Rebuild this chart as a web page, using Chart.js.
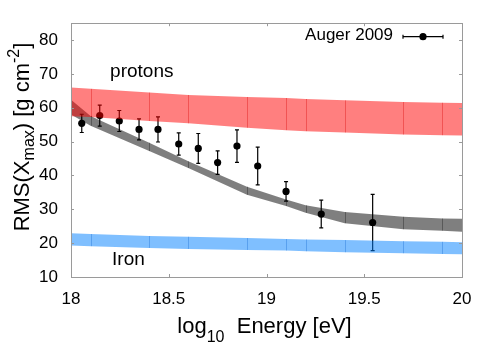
<!DOCTYPE html>
<html><head><meta charset="utf-8">
<script src="https://cdn.jsdelivr.net/npm/chart.js@4/dist/chart.umd.min.js"></script>
<style>html,body{margin:0;padding:0;background:#fff}canvas{display:block}</style>
</head><body>
<canvas id="c" width="500" height="361"></canvas>
<script>
// Auger 2009 measurements
const energy = [18.055, 18.147, 18.247, 18.348, 18.445, 18.551, 18.651, 18.75, 18.849, 18.955, 19.1, 19.28, 19.543];
const rms    = [55.4, 57.7, 56.1, 53.6, 53.6, 49.3, 48.0, 43.8, 48.7, 42.8, 35.3, 28.6, 26.1];
const rmsErr = [2.7, 3.1, 3.1, 3.1, 3.7, 3.3, 4.4, 3.5, 4.8, 5.6, 2.9, 4.1, 8.3];
// model bands
const bandX     = [18, 18.1, 18.4, 18.6, 18.9, 19.1, 19.2, 19.4, 19.7, 19.9, 20];
const protonHi  = [66.0, 65.6, 64.5, 63.8, 63.2, 62.9, 62.6, 62.2, 61.7, 61.5, 61.4];
const protonLo  = [57.5, 57.3, 56.1, 55.4, 54.1, 53.4, 53.1, 52.7, 52.1, 51.9, 51.8];
const mixHi     = [62.4, 57.6, 49.7, 44.2, 36.7, 32.9, 31.2, 29.2, 27.8, 27.3, 27.2];
const mixLo     = [58.0, 54.7, 47.2, 42.2, 34.3, 31.0, 29.0, 25.9, 24.1, 23.7, 23.4];
const ironHi    = [22.9, 22.7, 22.1, 21.9, 21.5, 21.2, 21.1, 20.9, 20.6, 20.4, 20.3];
const ironLo    = [19.3, 19.1, 18.6, 18.3, 18.0, 17.8, 17.6, 17.3, 17.0, 16.8, 16.7];
// axes
const xTicks = [18, 18.5, 19, 19.5, 20];
const yTicks = [10, 20, 30, 40, 50, 60, 70, 80];
const legendLabel = 'Auger 2009';
const bandLabels = [{text: 'protons', x: 18.2, y: 69}, {text: 'Iron', x: 18.21, y: 13.5}];

const FONT = '"Liberation Sans", Arial, Helvetica, sans-serif';
const pts = (xs, ys) => xs.map((x, i) => ({x: x, y: ys[i]}));

function band(hi, lo, fillCol) {
  return [
    {data: pts(bandX, hi), fill: '+1', backgroundColor: fillCol, borderWidth: 0, pointRadius: 0, tension: 0},
    {data: pts(bandX, lo), fill: false, borderWidth: 0, pointRadius: 0, tension: 0}
  ];
}
const bands = [
  {hi: protonHi, lo: protonLo, fill: 'rgba(255,0,0,0.5)', line: 'rgba(215,0,0,0.35)'},
  {hi: mixHi, lo: mixLo, fill: 'rgba(0,0,0,0.5)', line: 'rgba(0,0,0,0.3)'},
  {hi: ironHi, lo: ironLo, fill: 'rgba(0,128,255,0.5)', line: 'rgba(0,90,200,0.3)'}
];

const datasets = [];
bands.forEach(b => datasets.push(...band(b.hi, b.lo, b.fill)));
datasets.push({
  data: pts(energy, rms), showLine: false, pointRadius: 3.6, pointBackgroundColor: '#000',
  pointBorderColor: '#000', pointBorderWidth: 0, borderWidth: 0
});

const deco = {
  id: 'deco',
  beforeDatasetsDraw(chart) {
    const ctx = chart.ctx, xs = chart.scales.x, ys = chart.scales.y;
    ctx.save();
    ctx.strokeStyle = '#000'; ctx.lineWidth = 1.2;
    energy.forEach((e, i) => {
      const px = xs.getPixelForValue(e);
      const t = ys.getPixelForValue(rms[i] + rmsErr[i]);
      const b = ys.getPixelForValue(rms[i] - rmsErr[i]);
      ctx.beginPath();
      ctx.moveTo(px, t); ctx.lineTo(px, b);
      ctx.moveTo(px - 2, t); ctx.lineTo(px + 2, t);
      ctx.moveTo(px - 2, b); ctx.lineTo(px + 2, b);
      ctx.stroke();
    });
    ctx.restore();
  },
  afterDatasetsDraw(chart) {
    const ctx = chart.ctx, xs = chart.scales.x, ys = chart.scales.y, a = chart.chartArea;
    ctx.save();
    // band segment seams
    ctx.lineWidth = 1;
    bands.forEach(b => {
      ctx.strokeStyle = b.line;
      for (let i = 1; i < bandX.length - 1; i++) {
        const px = Math.round(xs.getPixelForValue(bandX[i])) + 0.5;
        ctx.beginPath();
        ctx.moveTo(px, ys.getPixelForValue(b.hi[i]));
        ctx.lineTo(px, ys.getPixelForValue(b.lo[i]));
        ctx.stroke();
      }
    });
    // frame
    ctx.strokeStyle = '#9a9a9a'; ctx.lineWidth = 1;
    ctx.strokeRect(Math.round(a.left) + 0.5, Math.round(a.top) + 0.5, Math.round(a.right - a.left), Math.round(a.bottom - a.top));
    // inward ticks
    const tl = 3;
    xTicks.forEach(v => {
      const px = Math.round(xs.getPixelForValue(v)) + 0.5;
      ctx.beginPath();
      ctx.moveTo(px, a.bottom); ctx.lineTo(px, a.bottom - tl);
      ctx.moveTo(px, a.top); ctx.lineTo(px, a.top + tl);
      ctx.stroke();
    });
    yTicks.forEach(v => {
      const py = Math.round(ys.getPixelForValue(v)) + 0.5;
      ctx.beginPath();
      ctx.moveTo(a.left, py); ctx.lineTo(a.left + tl, py);
      ctx.moveTo(a.right, py); ctx.lineTo(a.right - tl, py);
      ctx.stroke();
    });
    // band labels
    ctx.fillStyle = '#000';
    ctx.font = '19px ' + FONT;
    ctx.textBaseline = 'alphabetic'; ctx.textAlign = 'left';
    bandLabels.forEach(l => ctx.fillText(l.text, xs.getPixelForValue(l.x), ys.getPixelForValue(l.y)));
    // legend
    ctx.font = '17px ' + FONT;
    ctx.textAlign = 'right';
    ctx.fillText(legendLabel, a.right - 69, a.top + 17);
    const ly = a.top + 13.5, lx0 = a.right - 59, lx1 = a.right - 19;
    ctx.strokeStyle = '#000'; ctx.lineWidth = 1.2;
    ctx.beginPath();
    ctx.moveTo(lx0, ly); ctx.lineTo(lx1, ly);
    ctx.moveTo(lx0, ly - 2); ctx.lineTo(lx0, ly + 2);
    ctx.moveTo(lx1, ly - 2); ctx.lineTo(lx1, ly + 2);
    ctx.stroke();
    ctx.beginPath(); ctx.arc((lx0 + lx1) / 2, ly, 3.6, 0, Math.PI * 2); ctx.fill();
    ctx.restore();
  },
  afterDraw(chart) {
    const ctx = chart.ctx, a = chart.chartArea;
    ctx.save();
    ctx.fillStyle = '#000';
    ctx.textBaseline = 'alphabetic'; ctx.textAlign = 'left';
    // x title
    const big = '22px ' + FONT, small = '16px ' + FONT;
    const xr = [['log', big, 0], ['10', small, 9], ['  Energy [eV]', big, 0]];
    let w = 0;
    xr.forEach(r => { ctx.font = r[1]; w += ctx.measureText(r[0]).width; });
    let x = (a.left + a.right) / 2 - w / 2 - 2;
    const by = 333;
    xr.forEach(r => { ctx.font = r[1]; ctx.fillText(r[0], x, by + r[2]); x += ctx.measureText(r[0]).width; });
    // y title (rotated)
    const yr = [['RMS(X', big, 0], ['max', small, 5], [') [g cm', big, 0], ['-2', small, -10], [']', big, 0]];
    w = 0;
    yr.forEach(r => { ctx.font = r[1]; w += ctx.measureText(r[0]).width; });
    ctx.translate(29, 137);
    ctx.rotate(-Math.PI / 2);
    x = -w / 2;
    yr.forEach(r => { ctx.font = r[1]; ctx.fillText(r[0], x, r[2]); x += ctx.measureText(r[0]).width; });
    ctx.restore();
  }
};

new Chart(document.getElementById('c'), {
  type: 'line',
  data: {datasets: datasets},
  options: {
    responsive: false, animation: false, devicePixelRatio: 1,
    layout: {padding: {top: 18, right: 38, left: 0, bottom: 0}},
    plugins: {legend: {display: false}, tooltip: {enabled: false}},
    scales: {
      x: {
        type: 'linear', min: 18, max: 20,
        afterBuildTicks: s => { s.ticks = xTicks.map(v => ({value: v})); },
        afterFit: s => { s.height = 84; },
        grid: {display: false, drawTicks: false},
        border: {display: false},
        ticks: {color: '#000', font: {size: 17, family: FONT}, padding: 12, maxRotation: 0, autoSkip: false,
                callback: v => String(v)}
      },
      y: {
        type: 'linear', min: 10, max: 85,
        afterBuildTicks: s => { s.ticks = yTicks.map(v => ({value: v})); },
        afterFit: s => { s.width = 71; },
        grid: {display: false, drawTicks: false},
        border: {display: false},
        ticks: {color: '#000', font: {size: 17, family: FONT}, padding: 13, autoSkip: false,
                callback: v => String(v)}
      }
    }
  },
  plugins: [deco]
});
</script>
</body></html>
